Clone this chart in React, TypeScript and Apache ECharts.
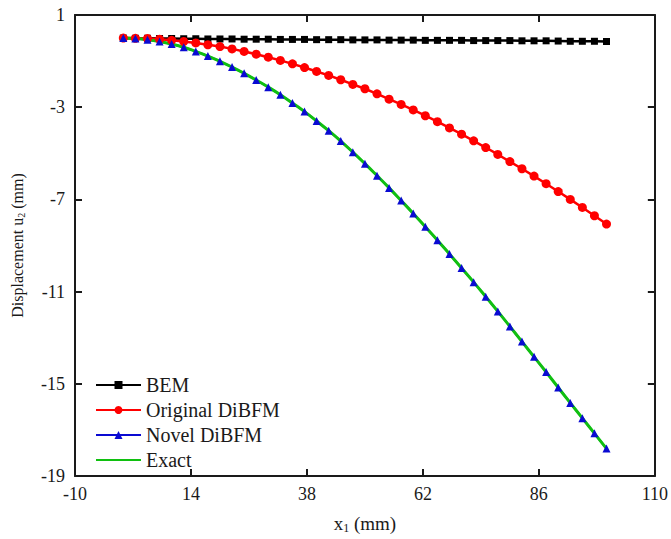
import React, { useEffect, useRef } from "react";
import * as echarts from "echarts";

const xValues = [0, 2.5, 5, 7.5, 10, 12.5, 15, 17.5, 20, 22.5, 25, 27.5, 30, 32.5, 35, 37.5, 40, 42.5, 45, 47.5, 50, 52.5, 55, 57.5, 60, 62.5, 65, 67.5, 70, 72.5, 75, 77.5, 80, 82.5, 85, 87.5, 90, 92.5, 95, 97.5, 100];

const bem = [0, -0.01, -0.01, -0.02, -0.02, -0.03, -0.03, -0.04, -0.04, -0.04, -0.05, -0.05, -0.05, -0.06, -0.06, -0.06, -0.07, -0.07, -0.07, -0.08, -0.08, -0.08, -0.09, -0.09, -0.09, -0.1, -0.1, -0.1, -0.1, -0.11, -0.11, -0.11, -0.11, -0.12, -0.12, -0.12, -0.13, -0.14, -0.14, -0.14, -0.15];

const originalDiBFM = [0, -0.01, -0.02, -0.05, -0.1, -0.15, -0.21, -0.29, -0.37, -0.47, -0.58, -0.7, -0.83, -0.97, -1.12, -1.28, -1.45, -1.62, -1.81, -2.01, -2.2, -2.42, -2.65, -2.88, -3.12, -3.37, -3.63, -3.9, -4.17, -4.46, -4.75, -5.05, -5.36, -5.67, -5.99, -6.32, -6.66, -7.0, -7.35, -7.71, -8.07];

const novelDiBFM = [0, -0.02, -0.07, -0.15, -0.26, -0.4, -0.58, -0.78, -1.01, -1.26, -1.53, -1.82, -2.13, -2.46, -2.82, -3.19, -3.6, -4.02, -4.47, -4.95, -5.45, -5.97, -6.5, -7.05, -7.61, -8.19, -8.77, -9.37, -9.98, -10.59, -11.22, -11.86, -12.51, -13.17, -13.83, -14.49, -15.16, -15.83, -16.49, -17.15, -17.81];

const exact = [0, -0.02, -0.07, -0.15, -0.26, -0.4, -0.58, -0.78, -1.01, -1.26, -1.53, -1.82, -2.13, -2.46, -2.82, -3.19, -3.6, -4.02, -4.47, -4.95, -5.45, -5.97, -6.5, -7.05, -7.61, -8.19, -8.77, -9.37, -9.98, -10.59, -11.22, -11.86, -12.51, -13.17, -13.83, -14.49, -15.16, -15.83, -16.49, -17.15, -17.81];

const seriesNames = ["BEM", "Original DiBFM", "Novel DiBFM", "Exact"];

const FONT = "Liberation Serif";
const AXIS_COLOR = "#1a1a1a";
const TEXT_COLOR = "#1a1a1a";

const pairs = (ys: number[]) => xValues.map((x, i) => [x, ys[i]]);

export default function App() {
  const ref = useRef<HTMLDivElement>(null);

  useEffect(() => {
    if (!ref.current) return;
    const chart = echarts.init(ref.current, undefined, { renderer: "svg" });
    const axisLine = { show: true, onZero: false, lineStyle: { color: AXIS_COLOR, width: 2 } };
    const axisTick = { show: true, inside: true, length: 7, lineStyle: { color: AXIS_COLOR, width: 2 } };
    const label = { color: TEXT_COLOR, fontFamily: FONT, fontSize: 18 };
    chart.setOption({
      animation: false,
      backgroundColor: "#ffffff",
      textStyle: { fontFamily: FONT },
      grid: { left: 75, right: 16, top: 15, bottom: 56, containLabel: false },
      legend: {
        orient: "vertical",
        left: 95,
        top: 375,
        padding: 0,
        itemWidth: 45,
        itemHeight: 10,
        itemGap: 5,
        textStyle: { fontFamily: FONT, fontSize: 20, color: TEXT_COLOR },
        data: [
          seriesNames[0],
          seriesNames[1],
          seriesNames[2],
          { name: seriesNames[3], itemStyle: { opacity: 0 } },
        ],
      },
      xAxis: [
        {
          type: "value",
          min: -10,
          max: 110,
          interval: 24,
          position: "bottom",
          axisLine,
          axisTick,
          splitLine: { show: false },
          axisLabel: { ...label, margin: 9 },
          name: "x{sub|1} (mm)",
          nameLocation: "middle",
          nameGap: 36,
          nameTextStyle: {
            fontFamily: FONT,
            fontSize: 19,
            color: TEXT_COLOR,
            rich: { sub: { fontFamily: FONT, fontSize: 12, color: TEXT_COLOR, padding: [10, 0, 0, 0] } },
          },
        },
        {
          type: "value",
          min: -10,
          max: 110,
          interval: 24,
          position: "top",
          axisLine,
          axisTick,
          splitLine: { show: false },
          axisLabel: { show: false },
        },
      ],
      yAxis: [
        {
          type: "value",
          min: -19,
          max: 1,
          interval: 4,
          position: "left",
          axisLine,
          axisTick,
          splitLine: { show: false },
          axisLabel: { ...label, margin: 10 },
          name: "Displacement u{sub|2} (mm)",
          nameLocation: "middle",
          nameGap: 49,
          nameTextStyle: {
            fontFamily: FONT,
            fontSize: 16,
            color: TEXT_COLOR,
            rich: { sub: { fontFamily: FONT, fontSize: 10, color: TEXT_COLOR, padding: [8, 0, 0, 0] } },
          },
        },
        {
          type: "value",
          min: -19,
          max: 1,
          interval: 4,
          position: "right",
          axisLine,
          axisTick,
          splitLine: { show: false },
          axisLabel: { show: false },
        },
      ],
      series: [
        {
          name: seriesNames[0],
          type: "line",
          data: pairs(bem),
          symbol: "rect",
          symbolSize: 7,
          itemStyle: { color: "#000000" },
          lineStyle: { color: "#000000", width: 2.5 },
        },
        {
          name: seriesNames[1],
          type: "line",
          data: pairs(originalDiBFM),
          symbol: "circle",
          symbolSize: 9,
          itemStyle: { color: "#ff0000" },
          lineStyle: { color: "#ff0000", width: 2.5 },
        },
        {
          name: seriesNames[2],
          type: "line",
          data: pairs(novelDiBFM),
          symbol: "triangle",
          symbolSize: 8,
          itemStyle: { color: "#0a0ad2" },
          lineStyle: { color: "#0a0ad2", width: 2 },
        },
        {
          name: seriesNames[3],
          type: "line",
          data: pairs(exact),
          symbol: "none",
          smooth: true,
          itemStyle: { color: "#10c010" },
          lineStyle: { color: "#10c010", width: 3 },
        },
      ],
    });
    return () => chart.dispose();
  }, []);

  return (
    <div
      ref={ref}
      style={{ position: "fixed", left: 0, top: 0, width: 671, height: 539, background: "#fff" }}
    />
  );
}
